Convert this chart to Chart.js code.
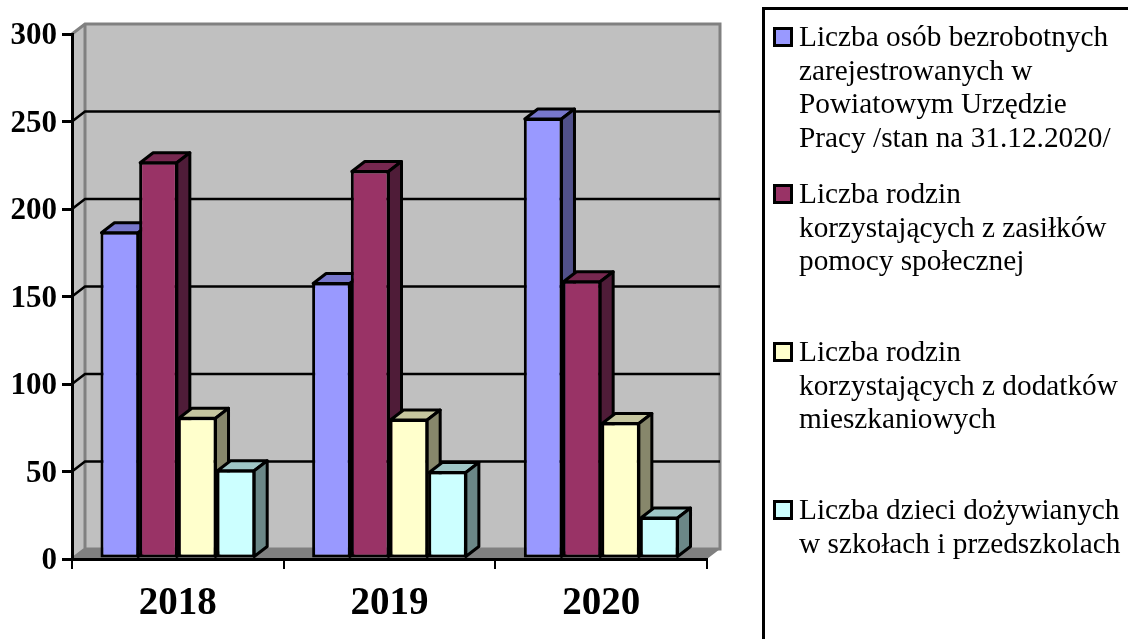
<!DOCTYPE html>
<html lang="pl">
<head>
<meta charset="utf-8">
<style>
html,body{margin:0;padding:0;background:#fff;width:1128px;height:639px;overflow:hidden;}
#c{position:absolute;left:0;top:0;}
#box{position:absolute;left:762px;top:7px;width:400px;height:700px;border:3px solid #000;box-sizing:border-box;}
.sw{position:absolute;left:773px;width:20px;height:20px;border:3px solid #000;box-sizing:border-box;}
.tx{position:absolute;left:799px;white-space:pre;font:29.3px/33.6px "Liberation Serif",serif;color:#000;}
</style>
</head>
<body>
<canvas id="c" width="1128" height="639"></canvas>
<div id="box"></div>
<script src="https://cdn.jsdelivr.net/npm/chart.js@4"></script>
<script>
const categories = ["2018", "2019", "2020"];
const seriesA = [187, 158, 252];
const seriesB = [227, 222, 159];
const seriesC = [81, 80, 78];
const seriesD = [51, 50, 24];
const labelA = ["Liczba osób bezrobotnych", "zarejestrowanych w", "Powiatowym Urzędzie", "Pracy /stan na 31.12.2020/"];
const labelB = ["Liczba rodzin", "korzystających z zasiłków", "pomocy społecznej"];
const labelC = ["Liczba rodzin", "korzystających z dodatków", "mieszkaniowych"];
const labelD = ["Liczba dzieci dożywianych", "w szkołach i przedszkolach"];
const legendTops = [20, 177, 335, 493];
const fronts = ["#9999ff", "#993366", "#ffffcc", "#ccffff"];
const topsC = ["#7777cc", "#772850", "#c6c69f", "#9fc6c6"];
const sides = ["#50508a", "#4f1c38", "#87876b", "#6b8787"];
const DX = 13, DY = -10;

function poly(ctx, pts, fill, stroke, lw) {
  ctx.beginPath();
  pts.forEach((p, i) => i ? ctx.lineTo(p[0], p[1]) : ctx.moveTo(p[0], p[1]));
  ctx.closePath();
  if (fill) { ctx.fillStyle = fill; ctx.fill(); }
  if (stroke) { ctx.strokeStyle = stroke; ctx.lineWidth = lw; ctx.lineJoin = "round"; ctx.stroke(); }
}

const wall3d = {
  id: "wall3d",
  beforeDraw(chart) {
    const { ctx, chartArea: a, scales: { y } } = chart;
    const L = a.left, R = a.right, T = a.top, B = a.bottom;
    ctx.save();
    poly(ctx, [[L + DX, T + DY], [R + DX, T + DY], [R + DX, B + DY], [L + DX, B + DY]], "#c0c0c0");
    poly(ctx, [[L, T], [L + DX, T + DY], [L + DX, B + DY], [L, B]], "#c0c0c0");
    poly(ctx, [[L, B], [L + DX, B + DY], [R + DX, B + DY], [R, B]], "#808080");
    ctx.strokeStyle = "#808080"; ctx.lineWidth = 3;
    ctx.beginPath();
    ctx.moveTo(L, T); ctx.lineTo(L + DX, T + DY); ctx.lineTo(R + DX, T + DY); ctx.lineTo(R + DX, B + DY);
    ctx.lineTo(L + DX, B + DY); ctx.lineTo(L, B);
    ctx.moveTo(L + DX, T + DY); ctx.lineTo(L + DX, B + DY);
    ctx.stroke();
    ctx.strokeStyle = "#000"; ctx.lineWidth = 2.5;
    y.ticks.forEach(t => {
      if (t.value <= y.min || t.value >= y.max) return;
      const p = y.getPixelForValue(t.value);
      ctx.beginPath();
      ctx.moveTo(L, p); ctx.lineTo(L + DX, p + DY); ctx.lineTo(R + DX, p + DY);
      ctx.stroke();
    });
    ctx.restore();
  },
  beforeDatasetsDraw(chart) {
    const { ctx } = chart;
    ctx.save();
    chart.data.datasets.forEach((ds, i) => {
      const meta = chart.getDatasetMeta(i);
      meta.data.forEach(bar => {
        const h = bar.width / 2;
        const l = bar.x - h, r = bar.x + h, t = bar.y, b = bar.base;
        const inset = 1;
        poly(ctx, [[l + inset, t + inset], [l + inset + DX, t + DY + inset], [r - inset + DX, t + DY + inset], [r - inset, t + inset]], topsC[i], "#000", 3);
        poly(ctx, [[r - inset, t + inset], [r - inset + DX, t + DY + inset], [r - inset + DX, b - inset + DY], [r - inset, b - inset]], sides[i], "#000", 3);
      });
      meta.controller.draw();
    });
    ctx.restore();
    return false;
  }
};

const serif = "'Liberation Serif', serif";
const seriesValues = [seriesA, seriesB, seriesC, seriesD];
const seriesNames = [labelA, labelB, labelC, labelD];

new Chart(document.getElementById("c"), {
  type: "bar",
  data: {
    labels: categories,
    datasets: seriesValues.map((v, i) => ({
      label: seriesNames[i].join(" "),
      data: v,
      backgroundColor: fronts[i],
      borderColor: "#000",
      borderWidth: 3,
      borderSkipped: false,
      barPercentage: 1,
      categoryPercentage: 0.731
    }))
  },
  options: {
    responsive: false,
    animation: false,
    layout: { padding: { top: 34, right: 421, left: 0, bottom: 0 } },
    plugins: { legend: { display: false }, tooltip: { enabled: false }, title: { display: false } },
    scales: {
      x: {
        afterFit(s) { s.height = 80; },
        grid: { drawOnChartArea: false, drawTicks: true, tickLength: 10, tickColor: "#000", tickWidth: 2, color: "#000", lineWidth: 2 },
        border: { color: "#000", width: 3 },
        ticks: { color: "#000", padding: 12, maxRotation: 0, font: { family: serif, size: 39, weight: "bold" } }
      },
      y: {
        min: 0, max: 300,
        afterFit(s) { s.width = 72; },
        grid: { drawOnChartArea: false, drawTicks: true, tickLength: 10, tickColor: "#000", tickWidth: 3, color: "#000", lineWidth: 3 },
        border: { color: "#000", width: 3 },
        ticks: { stepSize: 50, color: "#000", padding: 5, labelOffset: 2, font: { family: serif, size: 31, weight: "bold" } }
      }
    }
  },
  plugins: [wall3d]
});

seriesNames.forEach((lines, i) => {
  const sw = document.createElement("div");
  sw.className = "sw"; sw.style.top = (legendTops[i] + 7) + "px"; sw.style.background = fronts[i];
  document.body.appendChild(sw);
  const tx = document.createElement("div");
  tx.className = "tx"; tx.style.top = legendTops[i] + "px"; tx.textContent = lines.join("\n");
  document.body.appendChild(tx);
});
</script>
</body>
</html>
